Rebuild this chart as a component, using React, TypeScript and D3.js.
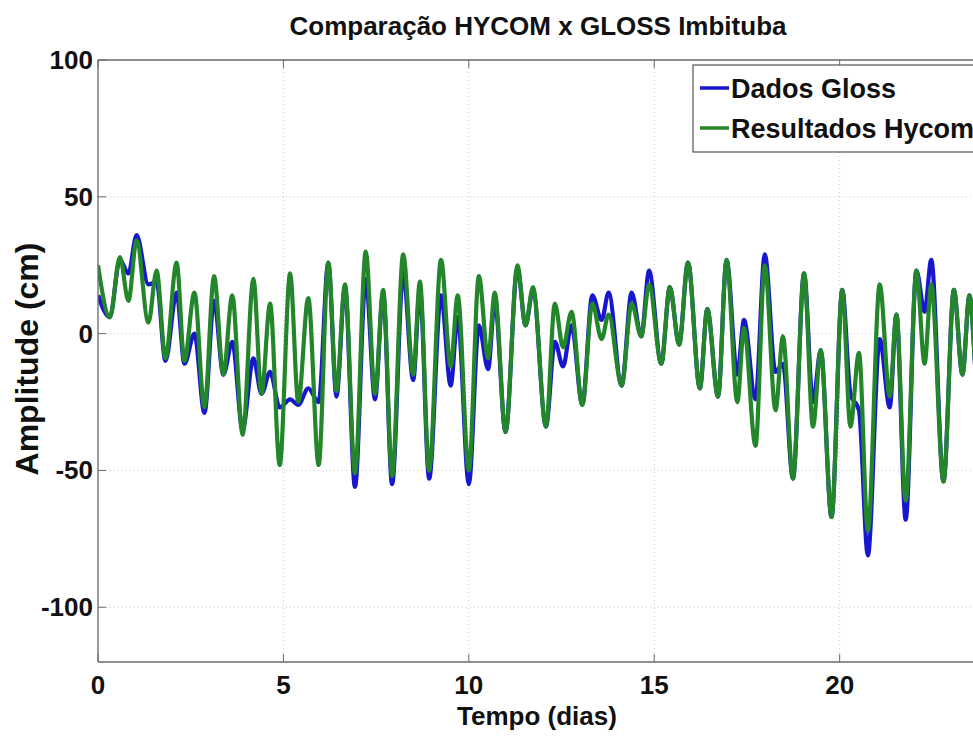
import React from "react";
import * as d3 from "d3";

// Time (days) of successive highs/lows
const times = [
  0, 0.32, 0.59, 0.82, 1.04, 1.36, 1.58, 1.82, 2.12, 2.33, 2.6, 2.87, 3.13, 3.38, 3.62, 3.9,
  4.19, 4.41, 4.64, 4.9, 5.18, 5.4, 5.67, 5.95, 6.21, 6.43, 6.66, 6.93, 7.22, 7.47, 7.69, 7.93,
  8.23, 8.5, 8.68, 8.93, 9.25, 9.51, 9.7, 10.0, 10.27, 10.52, 10.7, 10.99, 11.31, 11.53, 11.73,
  12.08, 12.32, 12.54, 12.77, 13.06, 13.33, 13.58, 13.77, 14.12, 14.39, 14.65, 14.86, 15.19,
  15.42, 15.67, 15.91, 16.23, 16.43, 16.72, 16.95, 17.24, 17.42, 17.73, 17.98, 18.27, 18.47,
  18.74, 19.04, 19.28, 19.49, 19.78, 20.07, 20.29, 20.52, 20.76, 21.08, 21.35, 21.53, 21.78,
  22.07, 22.29, 22.47, 22.8, 23.08, 23.31, 23.5, 23.75, 24.0,
];

// Dados Gloss (cm)
const glossValues = [
  14, 6, 27, 22, 36, 18, 19, -10, 15, -11, 0, -29, 12, -15, -3, -35,
  -9, -22, -14, -27, -24, -26, -20, -25, 26, -23, 17, -56, 20, -24, 15, -55,
  22, -17, 16, -53, 14, -19, 6, -55, 3, -13, 12, -36, 24, 3, 16,
  -34, -3, -12, 3, -26, 14, 5, 15, -19, 15, -1, 23, -11,
  17, -4, 26, -20, 9, -23, 27, -15, 5, -24, 29, -14, -11,
  -53, 22, -25, -6, -67, 16, -22, -28, -81, -2, -27, 7, -68,
  23, 8, 27, -54, 16, -15, 14, -25, 5,
];

// Resultados Hycom (cm)
const hycomValues = [
  25, 6, 28, 12, 34, 4, 23, -9, 26, -10, 15, -27, 21, -15, 14, -37,
  20, -22, 11, -48, 22, -25, 13, -48, 26, -21, 18, -51, 30, -22, 16, -52,
  29, -15, 19, -50, 27, -12, 14, -50, 21, -9, 15, -36, 25, 3, 17,
  -34, 11, -5, 8, -26, 11, -2, 7, -19, 11, -1, 18, -11,
  17, -4, 26, -20, 9, -23, 27, -25, 2, -41, 25, -28, -1,
  -53, 22, -34, -6, -67, 16, -34, -7, -72, 18, -23, 7, -61,
  23, -11, 18, -54, 16, -15, 14, -25, 5,
];

const xTicks = [0, 5, 10, 15, 20];
const yTicks = [100, 50, 0, -50, -100];
const seriesNames = ["Dados Gloss", "Resultados Hycom"];
const titleText = "Comparação HYCOM x GLOSS Imbituba";
const xLabel = "Tempo (dias)";
const yLabel = "Amplitude (cm)";

const BLUE = "#1717cf";
const GREEN = "#23862a";
const FONT = "'Liberation Sans', Arial, sans-serif";

export default function App() {
  const W = 973;
  const H = 736;
  const left = 98, top = 60, right = 988, bottom = 662;
  const x = d3.scaleLinear().domain([0, 24]).range([left, right]);
  const y = d3.scaleLinear().domain([-120, 100]).range([bottom, top]);

  const line = d3
    .line<number>()
    .x((_, i) => x(times[i]))
    .y((d) => y(d))
    .curve(d3.curveMonotoneX);

  const glossPath = line(glossValues) || "";
  const hycomPath = line(hycomValues) || "";

  return (
    <div style={{ position: "absolute", left: 0, top: 0 }}>
      <svg width={W} height={H} style={{ display: "block", background: "#fff" }}>
        <defs>
          <clipPath id="plotClip">
            <rect x={left} y={top} width={right - left} height={bottom - top} />
          </clipPath>
        </defs>
        <rect x={0} y={0} width={W} height={H} fill="#fff" />
        {/* grid */}
        {xTicks.map((t) => (
          <line key={"gx" + t} x1={x(t)} x2={x(t)} y1={top} y2={bottom}
            stroke="#c8c8c8" strokeWidth={1} strokeDasharray="1,3" />
        ))}
        {yTicks.map((t) => (
          <line key={"gy" + t} x1={left} x2={right} y1={y(t)} y2={y(t)}
            stroke="#c8c8c8" strokeWidth={1} strokeDasharray="1,3" />
        ))}
        {/* series */}
        <g clipPath="url(#plotClip)">
          <path d={glossPath} fill="none" stroke={BLUE} strokeWidth={4.2} strokeLinejoin="round" />
          <path d={hycomPath} fill="none" stroke={GREEN} strokeWidth={4.2} strokeLinejoin="round" />
        </g>
        {/* axes box */}
        <line x1={left} x2={left} y1={top} y2={bottom} stroke="#6a6a6a" strokeWidth={1.3} />
        <line x1={left} x2={right} y1={bottom} y2={bottom} stroke="#6a6a6a" strokeWidth={1.3} />
        <line x1={left} x2={right} y1={top} y2={top} stroke="#6a6a6a" strokeWidth={1.3} />
        {/* ticks */}
        {xTicks.map((t) => (
          <g key={"tx" + t}>
            <line x1={x(t)} x2={x(t)} y1={bottom} y2={bottom - 8} stroke="#6a6a6a" strokeWidth={1} />
            <line x1={x(t)} x2={x(t)} y1={top} y2={top + 8} stroke="#6a6a6a" strokeWidth={1} />
            <text x={x(t)} y={694} textAnchor="middle" fontFamily={FONT} fontWeight="bold"
              fontSize={26} fill="#111">{t}</text>
          </g>
        ))}
        {yTicks.map((t) => (
          <g key={"ty" + t}>
            <line x1={left} x2={left + 8} y1={y(t)} y2={y(t)} stroke="#6a6a6a" strokeWidth={1} />
            <text x={93} y={y(t) + 9} textAnchor="end" fontFamily={FONT} fontWeight="bold"
              fontSize={26} fill="#111">{t}</text>
          </g>
        ))}
        {/* title & labels */}
        <text x={538} y={34.5} textAnchor="middle" fontFamily={FONT} fontWeight="bold"
          fontSize={26} fill="#111">{titleText}</text>
        <text x={537} y={725} textAnchor="middle" fontFamily={FONT} fontWeight="bold"
          fontSize={26} fill="#111">{xLabel}</text>
        <text transform="translate(38,359) rotate(-90)" textAnchor="middle" fontFamily={FONT}
          fontWeight="bold" fontSize={32} fill="#111">{yLabel}</text>
        {/* legend */}
        <g>
          <rect x={693} y={65} width={310} height={87} fill="#fff" stroke="#555" strokeWidth={1.2} />
          {seriesNames.map((name, i) => (
            <g key={name}>
              <line x1={700} x2={729} y1={88 + i * 40} y2={88 + i * 40}
                stroke={i === 0 ? BLUE : GREEN} strokeWidth={3.5} />
              <text x={731} y={98 + i * 40} fontFamily={FONT} fontWeight="bold" fontSize={27}
                fill="#111">{name}</text>
            </g>
          ))}
        </g>
      </svg>
    </div>
  );
}
